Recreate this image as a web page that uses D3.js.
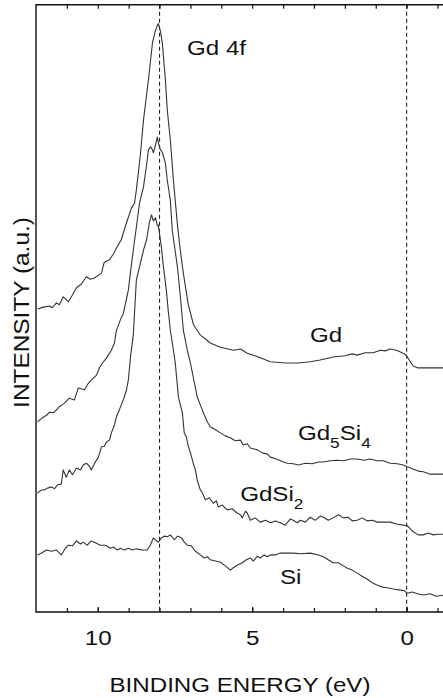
<!DOCTYPE html>
<html>
<head>
<meta charset="utf-8">
<script src="https://cdn.jsdelivr.net/npm/d3@7"></script>
<style>
  body { margin: 0; background: #fff; }
  svg { display: block; }
  text { font-family: "Liberation Sans", Arial, Helvetica, sans-serif; fill: #111; }
</style>
</head>
<body>
<svg id="chart" width="443" height="698"></svg>
<script>
// Valence-band photoemission spectra: [binding energy (eV), intensity (a.u.)]
const gdSpectrum = [
  [11.95,49.9],[11.76,50.2],[11.57,50.4],[11.47,50.1],[11.34,50.9],[11.24,50.6],[11.12,51.9],
  [10.95,51.1],[10.82,52.2],[10.69,53.4],[10.53,54.0],[10.37,55.2],[10.24,54.8],[10.11,55.0],
  [9.88,55.8],[9.79,57.6],[9.62,58.0],[9.49,59.0],[9.40,59.9],[9.24,61.3],[9.07,64.1],
  [8.91,66.5],[8.81,67.3],[8.75,69.5],[8.62,75.3],[8.52,81.0],[8.36,87.6],[8.23,93.7],
  [8.13,95.8],[8.07,96.6],[8.04,96.9],[7.97,95.6],[7.91,93.7],[7.81,87.6],[7.75,82.7],
  [7.65,77.7],[7.55,71.1],[7.42,63.7],[7.33,59.6],[7.23,55.8],[7.07,50.6],[6.90,47.3],
  [6.68,45.6],[6.52,45.0],[6.36,44.3],[6.03,43.6],[5.61,43.1],[5.38,43.3],[5.16,42.6],
  [4.80,42.0],[4.41,41.2],[3.93,41.0],[3.51,41.0],[3.12,41.2],[2.80,41.5],[2.38,42.0],
  [1.99,42.2],[1.76,42.5],[1.60,42.3],[1.34,42.7],[1.08,42.7],[0.85,43.1],[0.69,43.0],
  [0.53,43.3],[0.33,43.1],[0.20,42.8],[0.07,42.5],[-0.02,42.0],[-0.12,41.2],[-0.21,40.5],
  [-0.35,40.2],[-1.25,40.2]
];

const gd5si4Spectrum = [
  [11.95,31.3],[11.79,32.0],[11.66,32.4],[11.56,32.9],[11.43,32.8],[11.24,33.8],[11.08,34.4],
  [10.92,35.2],[10.76,34.9],[10.63,36.9],[10.43,36.6],[10.30,37.7],[10.17,38.4],[10.04,39.0],
  [9.94,40.3],[9.82,41.2],[9.72,41.8],[9.56,43.1],[9.46,44.3],[9.40,46.3],[9.27,48.1],
  [9.17,49.2],[9.01,53.0],[8.94,56.0],[8.85,59.6],[8.75,63.4],[8.65,67.3],[8.52,70.0],
  [8.42,73.6],[8.36,76.1],[8.29,76.6],[8.23,76.1],[8.20,75.6],[8.13,76.9],[8.07,78.2],
  [8.04,77.3],[7.97,76.1],[7.91,75.7],[7.81,73.9],[7.75,71.1],[7.65,67.8],[7.59,62.9],
  [7.42,56.8],[7.33,52.2],[7.23,46.4],[7.10,43.1],[7.00,41.0],[6.87,37.7],[6.78,35.4],
  [6.68,34.1],[6.58,32.8],[6.45,31.3],[6.36,30.5],[6.19,30.0],[6.03,29.5],[5.87,29.0],
  [5.71,28.7],[5.55,28.2],[5.38,28.3],[5.29,27.5],[5.16,27.7],[5.06,27.0],[4.83,26.7],
  [4.67,26.2],[4.51,26.0],[4.41,25.5],[4.22,25.2],[3.99,24.7],[3.86,24.5],[3.67,24.4],
  [3.51,24.2],[3.28,24.5],[3.05,24.4],[2.86,24.7],[2.69,24.7],[2.47,24.9],[2.24,25.0],
  [2.05,24.9],[1.82,25.2],[1.60,25.2],[1.37,25.0],[1.18,25.2],[0.95,24.9],[0.76,24.9],
  [0.53,24.5],[0.30,24.4],[0.11,24.2],[-0.02,23.9],[-0.22,23.5],[-0.38,23.2],[-0.54,23.1],
  [-0.76,22.7],[-1.25,22.7]
];

const gdsi2Spectrum = [
  [11.95,19.6],[11.82,20.1],[11.73,20.1],[11.63,20.4],[11.50,20.6],[11.40,20.3],[11.31,20.9],
  [11.18,21.1],[11.12,23.4],[11.02,22.2],[10.92,23.4],[10.82,22.6],[10.69,23.7],[10.56,23.4],
  [10.47,24.2],[10.37,24.5],[10.27,24.0],[10.21,23.4],[10.08,24.7],[9.98,25.5],[9.88,27.2],
  [9.79,27.3],[9.72,28.0],[9.62,28.3],[9.56,29.5],[9.46,30.8],[9.40,32.1],[9.30,33.3],
  [9.24,34.1],[9.14,35.4],[9.07,36.6],[9.01,38.2],[8.94,42.0],[8.85,45.6],[8.75,54.7],
  [8.65,56.8],[8.52,59.6],[8.42,61.3],[8.33,64.1],[8.26,65.4],[8.20,64.4],[8.13,64.9],
  [8.07,63.6],[8.04,63.7],[7.94,60.1],[7.88,57.1],[7.78,53.0],[7.72,49.7],[7.65,46.4],
  [7.55,43.1],[7.49,41.0],[7.39,35.4],[7.26,32.8],[7.20,29.5],[7.13,28.8],[7.07,27.3],
  [7.00,26.2],[6.91,24.5],[6.84,23.4],[6.78,21.7],[6.68,20.1],[6.61,19.6],[6.52,18.5],
  [6.39,18.8],[6.26,17.9],[6.16,18.3],[6.10,17.3],[5.97,17.6],[5.81,16.8],[5.65,17.0],
  [5.49,16.3],[5.38,16.0],[5.32,15.5],[5.22,16.6],[5.16,16.3],[5.06,15.1],[4.90,15.5],
  [4.74,14.8],[4.57,15.1],[4.41,14.7],[4.25,15.0],[4.09,14.7],[3.93,14.3],[3.77,15.3],
  [3.67,15.1],[3.54,14.7],[3.44,15.1],[3.28,14.8],[3.12,15.6],[2.96,15.1],[2.80,15.8],
  [2.69,15.6],[2.54,15.1],[2.38,15.5],[2.21,16.0],[2.05,15.5],[1.89,15.6],[1.76,15.0],
  [1.60,15.1],[1.44,15.5],[1.27,15.0],[1.11,15.1],[0.95,14.8],[0.76,14.8],[0.53,14.8],
  [0.33,14.5],[0.11,14.3],[-0.02,14.2],[-0.12,13.7],[-0.21,13.2],[-0.38,12.7],[-0.54,12.7],
  [-0.70,13.0],[-0.86,12.7],[-1.02,12.8],[-1.25,12.8]
];

const siSpectrum = [
  [11.95,9.4],[11.82,9.7],[11.66,10.2],[11.50,10.0],[11.34,10.2],[11.18,9.4],[11.05,10.5],
  [10.95,11.0],[10.82,10.9],[10.69,11.7],[10.56,11.2],[10.47,11.5],[10.34,11.0],[10.21,11.7],
  [10.11,11.5],[9.92,11.0],[9.75,11.0],[9.59,10.5],[9.49,10.7],[9.37,10.2],[9.27,10.5],
  [9.14,10.2],[9.01,10.5],[8.88,10.2],[8.75,10.4],[8.59,10.2],[8.40,10.2],[8.30,11.0],
  [8.20,12.2],[8.10,11.7],[8.04,11.5],[7.94,12.2],[7.84,12.5],[7.75,12.4],[7.65,12.7],
  [7.52,11.9],[7.42,12.5],[7.29,12.2],[7.20,11.5],[7.10,11.0],[6.97,10.9],[6.84,10.0],
  [6.68,9.4],[6.55,8.9],[6.45,9.1],[6.36,8.6],[6.19,8.4],[6.03,8.2],[5.87,7.6],[5.71,6.9],
  [5.58,7.4],[5.49,7.7],[5.32,8.1],[5.19,8.6],[5.06,8.9],[4.96,8.4],[4.83,9.2],[4.74,8.9],
  [4.61,9.4],[4.51,9.1],[4.41,9.4],[4.25,9.4],[4.09,9.7],[3.86,9.7],[3.67,9.7],[3.44,9.6],
  [3.12,9.7],[2.86,9.4],[2.69,9.1],[2.54,8.6],[2.38,8.1],[2.21,8.1],[2.05,7.6],[1.92,7.2],
  [1.76,6.9],[1.60,6.4],[1.44,5.9],[1.27,5.4],[1.11,4.8],[0.95,4.4],[0.79,4.1],[0.63,4.0],
  [0.43,3.8],[0.20,3.6],[0.07,3.5],[-0.02,3.1],[-0.18,3.3],[-0.35,3.0],[-0.54,2.8],
  [-0.76,3.0],[-0.96,2.6],[-1.25,2.8]
];

const energyTickLabels = [10, 5, 0];
const energyMinorTicks = [11, 10, 9, 8, 7, 6, 5, 4, 3, 2, 1, 0, -1];
const referenceEnergies = [8.0, 0.0];   // Gd 4f peak position and Fermi level

const svg = d3.select("#chart");
const x = d3.scaleLinear().domain([12, -2]).range([36, 468.4]);
const y = d3.scaleLinear().domain([0, 100]).range([612, 4.7]);
const stretch = "scale(1.15,1)";

// reference lines (dashed)
svg.append("g").selectAll("line").data(referenceEnergies).join("line")
  .attr("x1", d => x(d)).attr("x2", d => x(d))
  .attr("y1", y(100)).attr("y2", y(0))
  .attr("stroke", "#222").attr("stroke-width", 1.1)
  .attr("stroke-dasharray", "4,3");

// spectra
const line = d3.line().x(d => x(d[0])).y(d => y(d[1]));
svg.append("g").selectAll("path")
  .data([gdSpectrum, gd5si4Spectrum, gdsi2Spectrum, siSpectrum]).join("path")
  .attr("d", line)
  .attr("fill", "none").attr("stroke", "#333").attr("stroke-width", 1.1)
  .attr("stroke-linejoin", "round");

// inward ticks on bottom and top edges
const bottomMinor = svg.append("g").attr("transform", `translate(0,${y(0)})`)
  .call(d3.axisBottom(x).tickValues(energyMinorTicks).tickSize(-4).tickFormat(""));
const topMinor = svg.append("g").attr("transform", `translate(0,${y(100)})`)
  .call(d3.axisTop(x).tickValues(energyMinorTicks).tickSize(-4).tickFormat(""));
const bottomMajor = svg.append("g").attr("transform", `translate(0,${y(0)})`)
  .call(d3.axisBottom(x).tickValues(energyTickLabels).tickSize(-5).tickPadding(18)
    .tickFormat(d3.format("d")));
[bottomMinor, topMinor, bottomMajor].forEach(g => {
  g.select(".domain").remove();
  g.selectAll(".tick line").attr("stroke", "#111").attr("stroke-width", 1.2);
});
bottomMajor.selectAll(".tick text")
  .attr("font-size", 21).attr("fill", "#111")
  .attr("font-family", "Liberation Sans, Arial, sans-serif")
  .attr("transform", stretch);

// frame
svg.append("path")
  .attr("d", `M${x(-2)},${y(100)}H${x(12)}V${y(0)}H${x(-2)}`)
  .attr("fill", "none").attr("stroke", "#111").attr("stroke-width", 1.4);

// axis titles
svg.append("text")
  .attr("transform", `translate(240,691.5) ${stretch}`)
  .attr("text-anchor", "middle").attr("font-size", 21)
  .text("BINDING ENERGY (eV)");
svg.append("text")
  .attr("transform", "translate(28.5,312.5) rotate(-90) scale(1.085,1)")
  .attr("text-anchor", "middle").attr("font-size", 22.5)
  .text("INTENSITY (a.u.)");

// curve labels: [energy, intensity] of each label's baseline start
function label(e, i, parts) {
  const t = svg.append("text")
    .attr("transform", `translate(${x(e)},${y(i)}) ${stretch}`)
    .attr("font-size", 21);
  parts.forEach(([s, sub]) => {
    const ts = t.append("tspan").text(s);
    if (sub) ts.attr("font-size", 15).attr("dy", 8);
    else if (t.selectAll("tspan").size() > 1) ts.attr("dy", -8);
  });
}
label(7.11, 91.7, [["Gd 4f"]]);
label(3.13, 44.5, [["Gd"]]);
label(3.52, 28.3, [["Gd"], ["5", true], ["Si"], ["4", true]]);
label(5.39, 18.2, [["GdSi"], ["2", true]]);
label(4.10, 4.6, [["Si"]]);
</script>
</body>
</html>
